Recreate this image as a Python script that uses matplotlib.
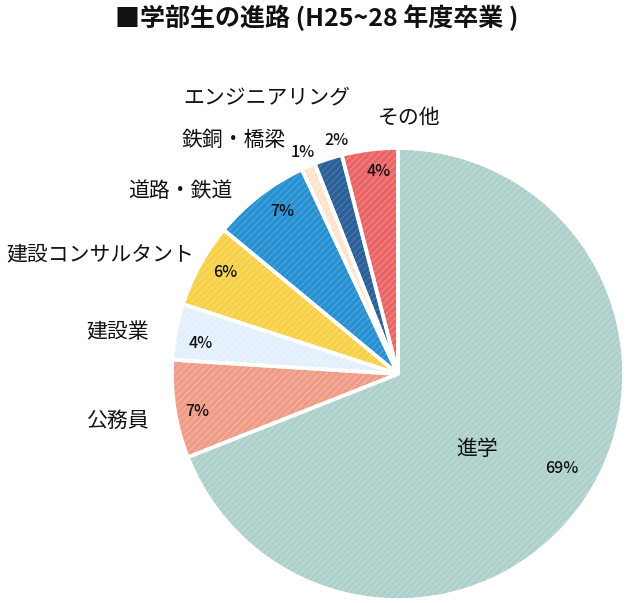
import matplotlib
matplotlib.use("Agg")
import matplotlib.pyplot as plt
import numpy as np

plt.rcParams['font.family'] = ['Noto Sans CJK JP', 'DejaVu Sans']
plt.rcParams['hatch.linewidth'] = 0.8

categories = ['進学', '公務員', '建設業', '建設コンサルタント', '道路・鉄道', '鉄銅・橋梁', 'エンジニアリング', 'その他']
values = [69, 7, 4, 6, 7, 1, 2, 4]
pct_labels = ['69%', '7%', '4%', '6%', '7%', '1%', '2%', '4%']
title = '■学部生の進路 (H25~28 年度卒業 )'

face_colors = ['#aed0cb', '#ef9c87', '#e3effc', '#f8d045', '#2790d2', '#fde3cc', '#2b5f98', '#ea6466']
hatch_colors = ['#c2dcd8', '#f4b3a3', '#eef5fd', '#fbde7a', '#4ea6dc', '#fdeedf', '#4b7aad', '#f08a8b']

# layout: label positions in pie-radius units (x, y)
cat_pos = [(0.35, -0.33), (-1.239, -0.208), (-1.239, 0.186), (-1.319, 0.531),
           (-0.965, 0.810), (-0.726, 1.035), (-0.580, 1.226), (0.049, 1.133)]
pct_pos = [(0.726, -0.420), (-0.889, -0.168), (-0.872, 0.137), (-0.765, 0.451),
           (-0.513, 0.717), (-0.420, 0.982), (-0.274, 1.031), (-0.084, 0.894)]

fig = plt.figure(figsize=(6.32, 6.03), dpi=100)
ax = fig.add_axes([172 / 632, 3 / 603, 452 / 632, 452 / 603])

wedges, _ = ax.pie(values, startangle=90, counterclock=False, radius=1.0,
                   colors=face_colors)
for w, hc in zip(wedges, hatch_colors):
    w.set_hatch('/////')
    w.set_edgecolor(hc)
    w.set_linewidth(0)

ax.pie(values, startangle=90, counterclock=False, radius=1.0,
       wedgeprops=dict(facecolor='none', edgecolor='white', linewidth=2.6))

for (x, y), t in zip(cat_pos, categories):
    ax.text(x, y, t, ha='center', va='center', fontsize=15, color='#111111')
for (x, y), t in zip(pct_pos, pct_labels):
    ax.text(x, y, t, ha='center', va='center', fontsize=11.5, color='#111111',
            fontweight='medium')

ax.set_xlim(-1, 1)
ax.set_ylim(-1, 1)
ax.set_aspect('equal')
ax.axis('off')

fig.text(317 / 632, 1 - 18 / 603, title, ha='center', va='center',
         fontsize=18, fontweight='bold', color='#111111')

fig.savefig('out.png', dpi=100)
